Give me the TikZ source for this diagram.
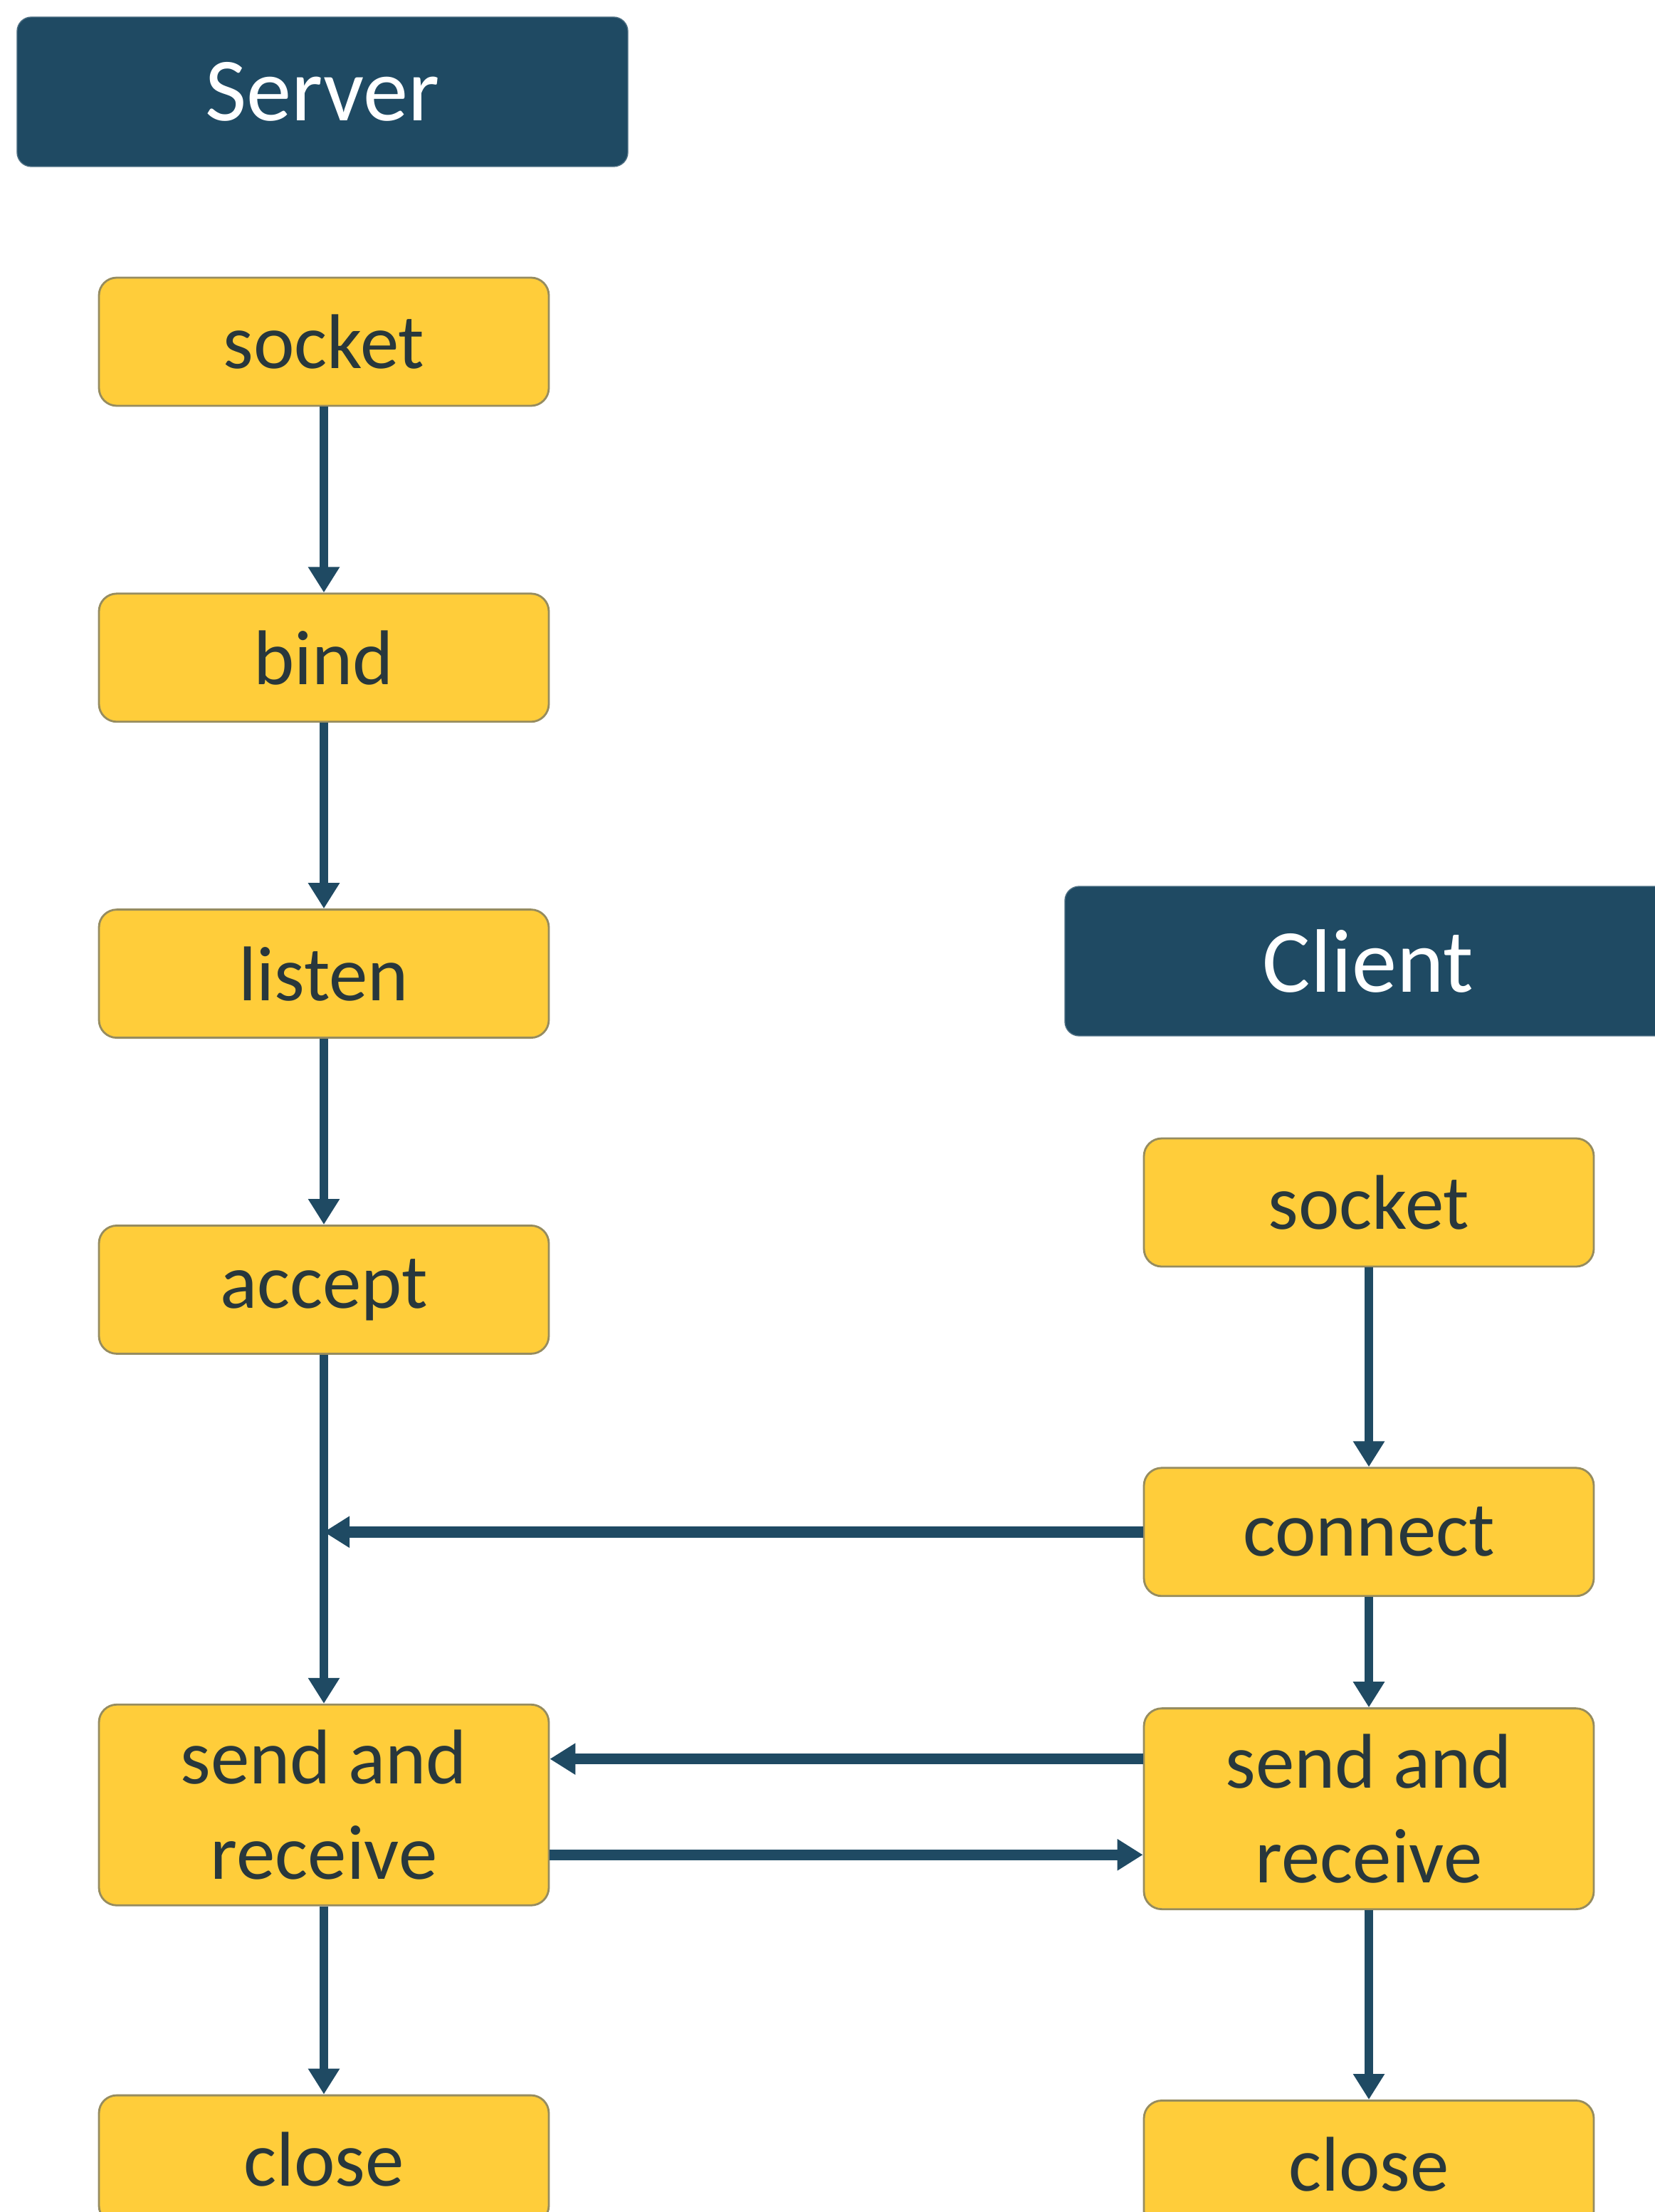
\documentclass[tikz,border=0pt]{standalone}
\usepackage{fontspec}
\setmainfont{Carlito}
\usetikzlibrary{arrows.meta,positioning}

\definecolor{navy}{RGB}{31,74,99}
\definecolor{sunny}{RGB}{255,205,58}
\definecolor{rim}{RGB}{150,140,95}
\definecolor{ink}{RGB}{40,55,60}

\begin{document}
\begin{tikzpicture}[
  node distance=2.61cm,
  head/.style={rectangle, fill=navy, draw=navy!80, rounded corners=0.2cm, text=white, minimum width=8.58cm, minimum height=2.1cm, font=\fontsize{36}{43}\selectfont},
  box/.style={rectangle, draw=rim, line width=0.8pt, fill=sunny, rounded corners=0.25cm, align=center, text=ink, minimum width=6.32cm, minimum height=1.8cm, font=\fontsize{31}{38}\selectfont},
  arr/.style={-{Triangle[length=0.36cm,width=0.42cm]}, line width=3.2pt, navy},
  harr/.style={arr, line width=4.4pt}
]
\useasboundingbox (0,0) rectangle (23.24,-31.07);

\node[head] (server) at (4.53,-1.29) {Server};
\node[head, minimum width=8.52cm] (client) at (19.22,-13.5) {Client};

% server side
\node[box] (ssocket) at (4.55,-4.8) {socket};
\node[box, below=of ssocket] (bind) {bind};
\node[box, below=of bind] (listen) {listen};
\node[box, below=of listen] (accept) {accept};
\node[box, below=4.9cm of accept, minimum height=2.82cm] (ssend) {send and\\receive};
\node[box, below=2.64cm of ssend] (sclose) {close};

% client side
\node[box] (csocket) at (19.23,-16.89) {socket};
\node[box, below=2.8cm of csocket] (connect) {connect};
\node[box, below=1.55cm of connect, minimum height=2.82cm] (csend) {send and\\receive};
\node[box, below=2.66cm of csend] (cclose) {close};

\draw[arr] (ssocket) -- (bind);
\draw[arr] (bind) -- (listen);
\draw[arr] (listen) -- (accept);
\draw[arr] (accept) -- (ssend);
\draw[arr] (ssend) -- (sclose);

\draw[arr] (csocket) -- (connect);
\draw[arr] (connect) -- (csend);
\draw[arr] (csend) -- (cclose);

\draw[harr] (connect.west) -- (connect.west -| accept.south);
\draw[harr] ([yshift=0.7cm]csend.west) -- ([yshift=0.7cm]csend.west -| ssend.east);
\draw[harr] ([yshift=-0.7cm]ssend.east) -- ([yshift=-0.7cm]ssend.east -| csend.west);
\end{tikzpicture}
\end{document}
